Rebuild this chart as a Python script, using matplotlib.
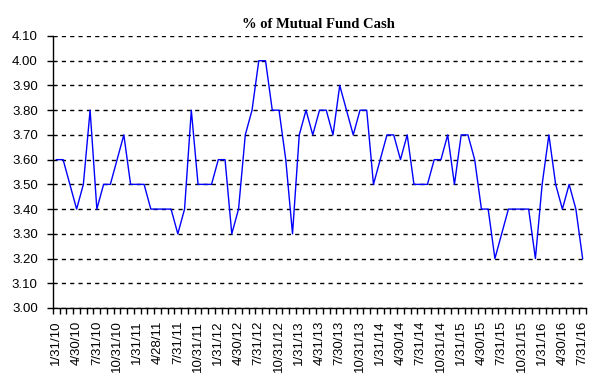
import numpy as np
import matplotlib
matplotlib.use("Agg")
import matplotlib.pyplot as plt
from matplotlib.ticker import FixedLocator

# month-end readings, 1/31/10 .. 7/31/16
cash_pct = [3.60, 3.60, 3.50, 3.40, 3.50, 3.80, 3.40, 3.50, 3.50, 3.60,
            3.70, 3.50, 3.50, 3.50, 3.40, 3.40, 3.40, 3.40, 3.30, 3.40,
            3.80, 3.50, 3.50, 3.50, 3.60, 3.60, 3.30, 3.40, 3.70, 3.80,
            4.00, 4.00, 3.80, 3.80, 3.60, 3.30, 3.70, 3.80, 3.70, 3.80,
            3.80, 3.70, 3.90, 3.80, 3.70, 3.80, 3.80, 3.50, 3.60, 3.70,
            3.70, 3.60, 3.70, 3.50, 3.50, 3.50, 3.60, 3.60, 3.70, 3.50,
            3.70, 3.70, 3.60, 3.40, 3.40, 3.20, 3.30, 3.40, 3.40, 3.40,
            3.40, 3.20, 3.50, 3.70, 3.50, 3.40, 3.50, 3.40, 3.20]

tick_labels = ["1/31/10", "4/30/10", "7/31/10", "10/31/10", "1/31/11", "4/28/11",
               "7/31/11", "10/31/11", "1/31/12", "4/30/12", "7/31/12", "10/31/12",
               "1/31/13", "4/31/13", "7/30/13", "10/31/13", "1/31/14", "4/30/14",
               "7/31/14", "10/31/14", "1/31/15", "4/30/15", "7/31/15", "10/31/15",
               "1/31/16", "4/30/16", "7/31/16"]

y_ticks = [3.0, 3.1, 3.2, 3.3, 3.4, 3.5, 3.6, 3.7, 3.8, 3.9, 4.0, 4.1]

x = np.arange(len(cash_pct))

fig = plt.figure(figsize=(6.05, 3.83), dpi=100)
ax = fig.add_axes([53/605, 1-308/383, 533/605, 272/383])

ax.plot(x, cash_pct, color="#0000ff", linewidth=1)

ax.set_xlim(-0.5, len(cash_pct) - 0.5)
ax.set_ylim(3.0, 4.1)
ax.set_yticks(y_ticks)
ax.set_yticklabels(["%.2f" % v for v in y_ticks])
ax.grid(axis="y", color="black", linestyle=(0, (3, 3)), linewidth=1)

ax.set_xticks(x[::3])
ax.set_xticklabels(tick_labels, rotation=90)
ax.xaxis.set_minor_locator(FixedLocator(np.arange(-0.5, len(cash_pct), 1)))
ax.tick_params(axis="x", which="both", length=4, width=1, direction="out")
ax.tick_params(axis="x", which="major", length=0, pad=9)
ax.tick_params(axis="y", length=4, width=1, pad=7)
for lab in ax.get_xticklabels() + ax.get_yticklabels():
    lab.set_fontfamily("Liberation Sans")
    lab.set_fontsize(9.5)

for side in ["top", "right"]:
    ax.spines[side].set_visible(False)
ax.spines["left"].set_linewidth(1)
ax.spines["bottom"].set_linewidth(1)

fig.text(318/605, 1-24/383, "% of Mutual Fund Cash", ha="center", va="center",
         fontfamily="Liberation Serif", fontweight="bold", fontsize=10.5)

fig.savefig("out.png", dpi=100)
